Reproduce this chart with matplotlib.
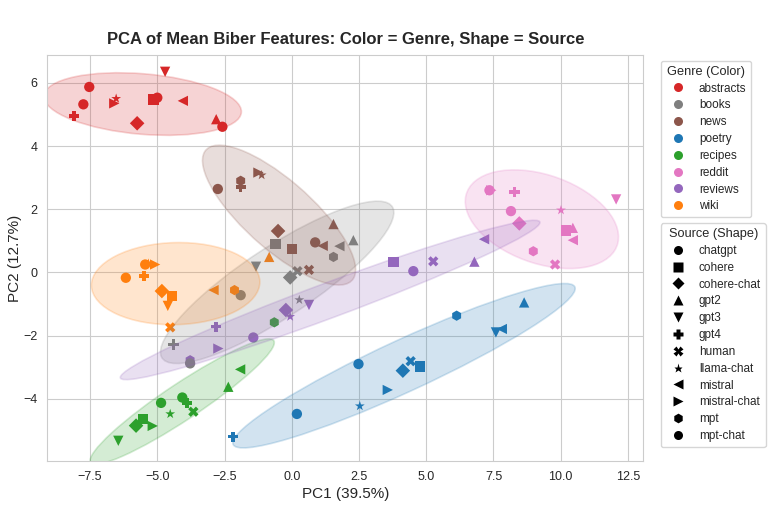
import numpy as np
import pandas as pd
import matplotlib
matplotlib.use("Agg")
import matplotlib.pyplot as plt
import seaborn as sns
from matplotlib.patches import Ellipse
from matplotlib.lines import Line2D
from matplotlib.ticker import MultipleLocator

# genre -> colour, source -> marker
genres = ["abstracts", "books", "news", "poetry", "recipes", "reddit", "reviews", "wiki"]
genre_colors = ["#d62728", "#7f7f7f", "#8c564b", "#1f77b4", "#2ca02c", "#e377c2", "#9467bd", "#ff7f0e"]
sources = ["chatgpt", "cohere", "cohere-chat", "gpt2", "gpt3", "gpt4", "human",
           "llama-chat", "mistral", "mistral-chat", "mpt", "mpt-chat"]
source_markers = ["o", "s", "D", "^", "v", "P", "X", "*", "<", ">", "h", "o"]

# (source, PC1, PC2) per genre
abstracts = [("chatgpt", -5.0, 5.53), ("cohere", -5.14, 5.47), ("cohere-chat", -5.75, 4.72),
             ("gpt2", -2.81, 4.85), ("gpt3", -4.71, 6.35), ("gpt4", -8.09, 4.95),
             ("llama-chat", -6.53, 5.50), ("mistral", -4.05, 5.43), ("mistral-chat", -6.60, 5.35),
             ("chatgpt", -7.75, 5.32), ("mpt-chat", -7.53, 5.87), ("mpt-chat", -2.58, 4.61)]
books = [("chatgpt", -1.90, -0.72), ("cohere", -0.61, 0.89), ("cohere-chat", -0.06, -0.16),
         ("gpt2", 2.29, 1.02), ("gpt3", -1.33, 0.18), ("gpt4", -4.40, -2.28),
         ("human", 0.21, 0.04), ("llama-chat", 0.28, -0.87), ("mistral", 1.77, 0.83),
         ("mpt", 1.55, 0.49), ("mpt-chat", -3.78, -2.88)]
news = [("chatgpt", -2.75, 2.64), ("cohere", 0.01, 0.75), ("cohere-chat", -0.51, 1.31),
        ("gpt2", 1.55, 1.53), ("gpt4", -1.90, 2.71), ("human", 0.64, 0.08),
        ("llama-chat", -1.12, 3.08), ("mistral", 1.15, 0.84), ("mistral-chat", -1.24, 3.16),
        ("mpt", -1.90, 2.90), ("mpt-chat", 0.87, 0.95)]
poetry = [("chatgpt", 2.48, -2.90), ("cohere", 4.78, -2.98), ("cohere-chat", 4.13, -3.11),
          ("gpt2", 8.64, -0.95), ("gpt3", 7.59, -1.90), ("gpt4", -2.19, -5.20),
          ("human", 4.42, -2.81), ("llama-chat", 2.53, -4.23), ("mistral", 7.81, -1.79),
          ("mistral-chat", 3.57, -3.72), ("mpt", 6.13, -1.37), ("mpt-chat", 0.19, -4.48)]
recipes = [("chatgpt", -4.07, -3.96), ("cohere", -5.54, -4.65), ("cohere-chat", -5.79, -4.85),
           ("gpt2", -2.36, -3.62), ("gpt3", -6.45, -5.33), ("gpt4", -3.90, -4.13),
           ("human", -3.66, -4.41), ("llama-chat", -4.52, -4.48), ("mistral", -1.92, -3.07),
           ("mistral-chat", -5.17, -4.86), ("mpt", -0.65, -1.58), ("mpt-chat", -4.86, -4.13)]
reddit = [("chatgpt", 7.35, 2.60), ("cohere", 10.20, 1.33), ("cohere-chat", 8.46, 1.55),
          ("gpt2", 10.45, 1.41), ("gpt3", 12.06, 2.31), ("gpt4", 8.28, 2.55),
          ("human", 9.79, 0.25), ("llama-chat", 10.01, 1.97), ("mistral", 10.45, 1.02),
          ("mistral-chat", 7.42, 2.60), ("mpt", 8.98, 0.67), ("mpt-chat", 8.15, 1.94)]
reviews = [("chatgpt", -1.43, -2.06), ("cohere", 3.78, 0.34), ("cohere-chat", -0.22, -1.19),
           ("gpt2", 6.79, 0.34), ("gpt3", 0.64, -1.03), ("gpt4", -2.81, -1.72),
           ("human", 5.26, 0.35), ("llama-chat", -0.06, -1.40), ("mistral", 7.15, 1.05),
           ("mistral-chat", -2.73, -2.41), ("mpt", -3.78, -2.78), ("mpt-chat", 4.52, 0.04)]
wiki = [("chatgpt", -6.17, -0.17), ("cohere", -4.46, -0.74), ("cohere-chat", -4.83, -0.59),
        ("gpt2", -0.84, 0.49), ("gpt3", -4.61, -1.06), ("gpt4", -5.49, -0.11),
        ("human", -4.52, -1.74), ("llama-chat", -5.33, 0.28), ("mistral", -2.91, -0.56),
        ("mistral-chat", -5.08, 0.25), ("mpt", -2.13, -0.56), ("mpt-chat", -5.45, 0.25)]

genre_data = [abstracts, books, news, poetry, recipes, reddit, reviews, wiki]
rows = []
for g, pts in zip(genres, genre_data):
    for src, x, y in pts:
        rows.append({"genre": g, "source": src, "PC1": x, "PC2": y})
df = pd.DataFrame(rows)

sns.set_style("whitegrid")
plt.rcParams["font.family"] = ["Liberation Sans", "DejaVu Sans"]

color_of = dict(zip(genres, genre_colors))
marker_of = dict(zip(sources, source_markers))

fig, ax = plt.subplots(figsize=(7.73, 5.05), dpi=100)
fig.subplots_adjust(left=0.0612, right=0.8322, bottom=0.0871, top=0.891)

for src in sources:
    sub = df[df["source"] == src]
    ax.scatter(sub["PC1"], sub["PC2"], c=[color_of[g] for g in sub["genre"]],
               marker=marker_of[src], s=55, linewidths=0)


def confidence_ellipse(x, y, color, n_std=2.0):
    cov = np.cov(x, y)
    vals, vecs = np.linalg.eigh(cov)
    order = vals.argsort()[::-1]
    vals, vecs = vals[order], vecs[:, order]
    angle = np.degrees(np.arctan2(vecs[1, 0], vecs[0, 0]))
    w, h = 2 * n_std * np.sqrt(vals)
    e = Ellipse((np.mean(x), np.mean(y)), w, h, angle=angle,
                facecolor=color, edgecolor=color, alpha=0.2, linewidth=1.2)
    ax.add_patch(e)


for g in genres:
    sub = df[df["genre"] == g]
    confidence_ellipse(sub["PC1"].values, sub["PC2"].values, color_of[g])

ax.set_xlim(-9.09, 13.07)
ax.set_ylim(-5.97, 6.88)
ax.xaxis.set_major_locator(MultipleLocator(2.5))
ax.yaxis.set_major_locator(MultipleLocator(2))
ax.tick_params(labelsize=9)
ax.set_xlabel("PC1 (39.5%)", fontsize=11, labelpad=3)
ax.set_ylabel("PC2 (12.7%)", fontsize=11, labelpad=1)
ax.set_title("PCA of Mean Biber Features: Color = Genre, Shape = Source",
             fontsize=12, fontweight="bold", pad=8)

genre_handles = [Line2D([0], [0], marker="o", linestyle="", markerfacecolor=c,
                        markeredgecolor="none", markersize=6.5) for c in genre_colors]
leg1 = ax.legend(genre_handles, genres, title="Genre (Color)", loc="upper left",
                 bbox_to_anchor=(1.02, 1.0), fontsize=8.5, title_fontsize=9.2,
                 labelspacing=0.41)
ax.add_artist(leg1)
source_handles = [Line2D([0], [0], marker=m, linestyle="", markerfacecolor="black",
                         markeredgecolor="none", markersize=7 if m == "h" else 6.5)
                  for m in source_markers]
ax.legend(source_handles, sources, title="Source (Shape)", loc="upper left",
          bbox_to_anchor=(1.02, 0.6), fontsize=8.5, title_fontsize=9.2,
          labelspacing=0.41)

fig.savefig("out.png", dpi=100)
